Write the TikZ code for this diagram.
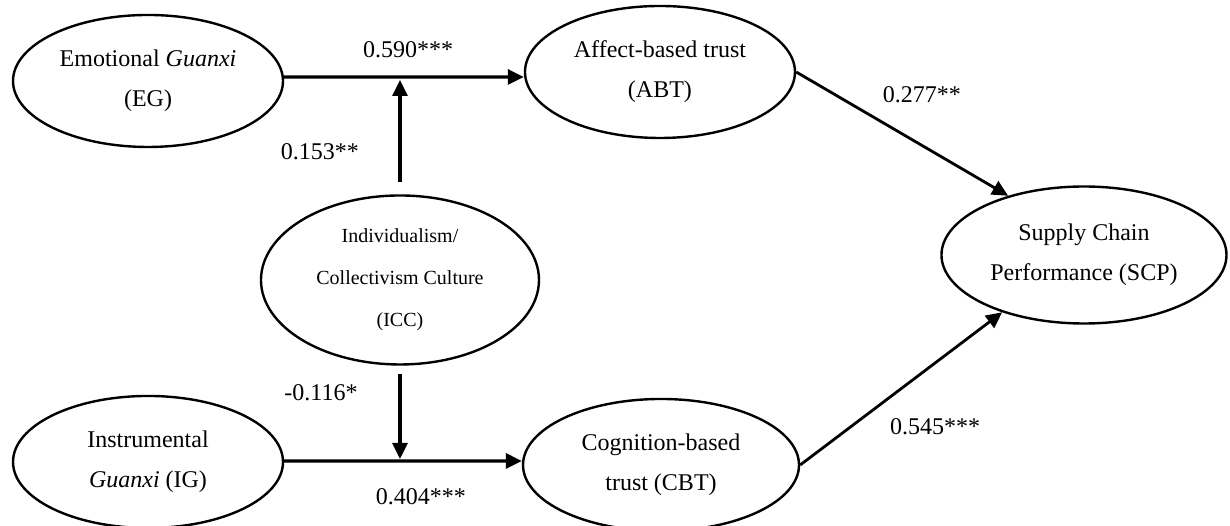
\documentclass[tikz,border=0pt]{standalone}
\usepackage{fontspec}
\setmainfont{Liberation Serif}
\usetikzlibrary{shapes.geometric,arrows.meta}

\tikzstyle{construct} = [ellipse, draw, line width=1.2pt, inner sep=0pt,
    minimum width=135pt, minimum height=66pt, align=center,
    font=\fontsize{12}{20}\selectfont]
\tikzstyle{moderator} = [construct, minimum width=139pt, minimum height=84.5pt,
    font=\fontsize{10}{21}\selectfont]
\tikzstyle{effect} = [draw, line width=1.6pt, -{Triangle[length=8pt,width=7.5pt]}]
\tikzstyle{coef} = [font=\fontsize{12}{14}\selectfont, inner sep=0pt]

\begin{document}
\begin{tikzpicture}
	\useasboundingbox (0,0) rectangle (21.615,9.243);
	\node [construct] (eg) at (2.601,7.820) {Emotional \textit{Guanxi}\\(EG)};
	\node [construct] (abt) at (11.598,7.978) {Affect-based trust\\(ABT)};
	\node [moderator] (icc) at (7.029,4.323) {Individualism/\\Collectivism Culture\\(ICC)};
	\node [construct, minimum width=142.5pt, minimum height=68.5pt] (scp) at (19.049,4.762) {Supply Chain\\Performance (SCP)};
	\node [construct] (ig) at (2.601,1.125) {Instrumental\\\textit{Guanxi} (IG)};
	\node [construct, minimum width=138pt] (cbt) at (11.616,1.072) {Cognition-based\\trust (CBT)};
	%
	\coordinate (ea) at ([yshift=2pt]eg.east);
	\coordinate (ia) at ([yshift=0.5pt]ig.east);
	\draw [effect] (ea) -- ([yshift=-2.5pt]abt.west);
	\draw [effect] (ia) -- ([yshift=2pt]cbt.west);
	\draw [effect, shorten >=1.5pt] ([yshift=6pt]icc.north) -- (icc.north |- ea);
	\draw [effect, shorten >=1pt] ([yshift=-4pt]icc.south) -- (icc.south |- ia);
	\draw [effect, line width=1.4pt] (abt.east) -- (scp.142);
	\draw [effect, line width=1.4pt] (cbt.east) -- (scp.215);
	%
	\node [coef] (c590) at (7.170,8.365) {0.590***};
	\node [coef] (c153) at (5.623,6.572) {0.153**};
	\node [coef] (c116) at (5.641,2.337) {-0.116*};
	\node [coef] (c404) at (7.398,0.510) {0.404***};
	\node [coef] (c277) at (16.202,7.574) {0.277**};
	\node [coef] (c545) at (16.431,1.740) {0.545***};
\end{tikzpicture}
\end{document}
